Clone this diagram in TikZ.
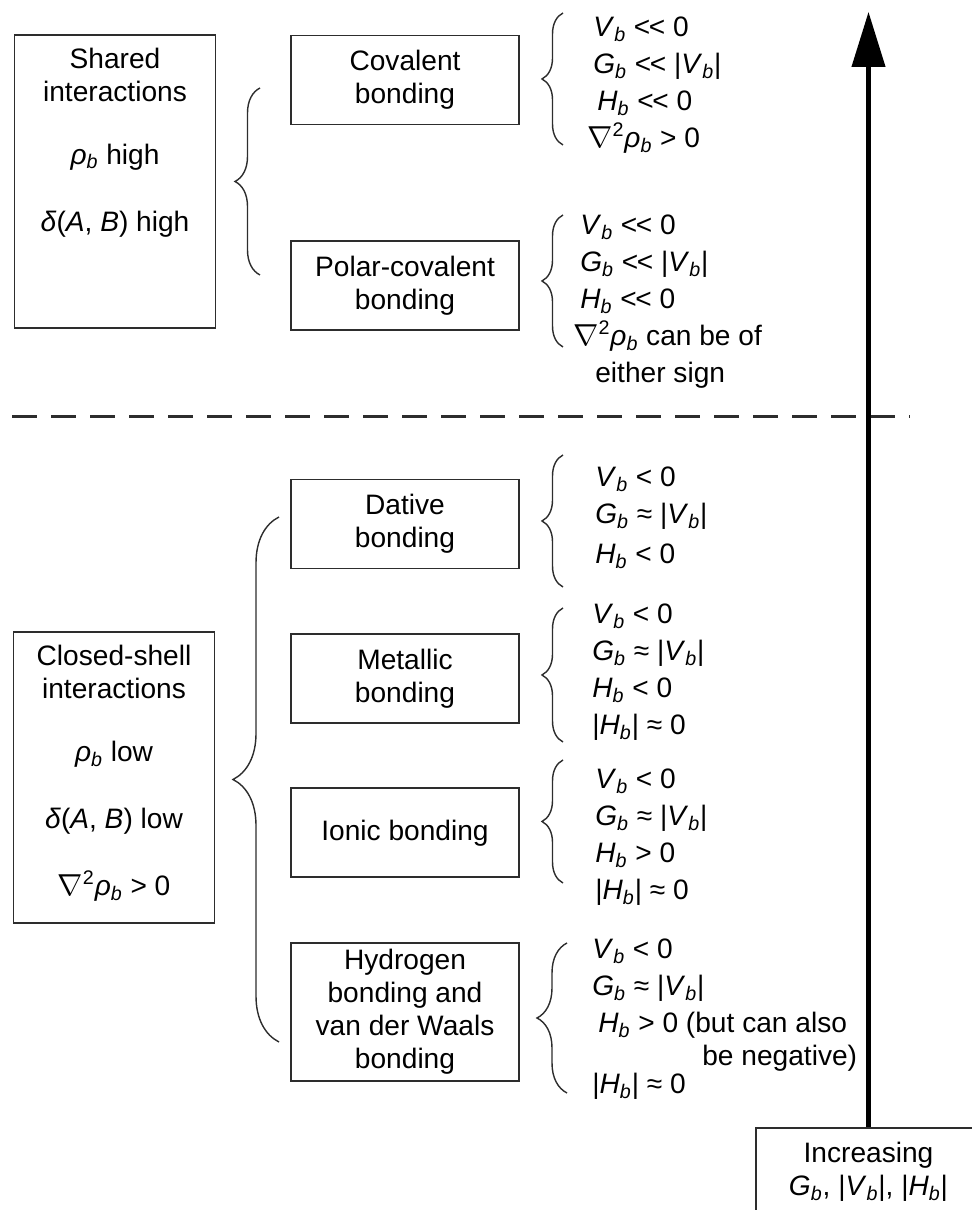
\documentclass[tikz,border=0pt]{standalone}
\usepackage{fontspec}
\setmainfont{Liberation Sans}
\usepackage{tikz}
\usetikzlibrary{arrows.meta,positioning,decorations.pathreplacing}
\definecolor{boxline}{RGB}{45,45,45}
\newcommand{\qb}[1]{\textit{#1}\textsubscript{\textit{b}}}
\newcommand{\lapl}{$\nabla$\textsuperscript{2}\qb{ρ}}
\newcommand{\mll}{<\kern-0.05em<}

\begin{document}
\begin{tikzpicture}[
  font=\fontsize{16}{18.8}\selectfont,
  group/.style={draw=boxline,line width=1.1pt,minimum width=4.02cm},
  grouptext/.style={align=center,inner sep=0pt},
  bond/.style={draw=boxline,line width=1.1pt,minimum width=4.56cm,minimum height=1.78cm,
               align=center},
  props/.style={align=left,anchor=north west,inner sep=0pt,
                font=\fontsize{16}{21}\selectfont},
  curly/.style={decorate,decoration={brace,amplitude=#1},line width=0.8pt,boxline},
  divider/.style={line width=1.7pt,boxline,dash pattern=on 0.5cm off 0.28cm},
  rise/.style={-{Triangle[length=1.1cm,width=0.66cm]},line width=2.4pt}
]
\useasboundingbox (0,0) rectangle (19.44,24.2);
\clip (0,0) rectangle (19.44,24.2);

% Shared interactions
\node[group,minimum height=5.86cm] (shared) at (2.30,20.57) {};
\node[grouptext,below=0.27cm of shared.north] (sharedtxt)
  {Shared\\interactions\\[0.6cm]\qb{ρ} high\\[0.68cm]\textit{δ}(\textit{A}, \textit{B}) high};

% Closed-shell interactions
\node[group,minimum height=5.82cm] (closed) at (2.28,8.65) {};
\node[grouptext,below=0.28cm of closed.north] (closedtxt)
  {Closed-shell\\interactions\\[0.6cm]\qb{ρ} low\\[0.68cm]\textit{δ}(\textit{A}, \textit{B}) low\\[0.68cm]\lapl{} > 0};

% Bond types
\node[bond] (cov) at (8.10,22.60) {Covalent\\bonding};
\node[bond,below=2.3cm of cov] (polar) {Polar-covalent\\bonding};
\node[bond] (dative) at (8.10,13.72) {Dative\\bonding};
\node[bond,below=1.27cm of dative] (metal) {Metallic\\bonding};
\node[bond,below=1.27cm of metal] (ionic) {Ionic bonding};
\node[bond,below=1.27cm of ionic,minimum height=2.76cm,inner ysep=2pt] (hvdw)
  {Hydrogen\\bonding and\\van der Waals\\bonding};

% Left braces
\draw[curly=0.5cm] (5.20,18.70) -- (5.20,22.44);
\draw[curly=0.92cm] (5.58,3.36) -- (5.58,13.86);

% Right braces
\foreach \yb/\yt in {21.30/23.94,17.26/19.90,12.46/15.10,9.36/12.04,6.54/9.00}
  \draw[curly=0.42cm] (11.26,\yb) -- (11.26,\yt);
\draw[curly=0.6cm] (11.34,2.34) -- (11.34,5.34);

% Properties
\node[props] (covp) at (11.86,23.86)
  {\qb{V} \mll{} 0\\\qb{G} \mll{} |\qb{V}|\\\hspace*{0.08cm}\qb{H} \mll{} 0\\\hspace*{-0.12cm}\lapl{} > 0};
\node[props] (polarp) at (11.60,19.90)
  {\qb{V} \mll{} 0\\\qb{G} \mll{} |\qb{V}|\\\qb{H} \mll{} 0\\\hspace*{-0.14cm}\lapl{} can be of\\\hspace*{0.3cm}either sign};
\node[props] (dativep) at (11.90,14.86)
  {\qb{V} < 0\\\qb{G} ≈ |\qb{V}|\\[0.06cm]\qb{H} < 0};
\node[props] (metalp) at (11.84,12.12)
  {\qb{V} < 0\\\qb{G} ≈ |\qb{V}|\\\qb{H} < 0\\|\qb{H}| ≈ 0};
\node[props] (ionicp) at (11.90,8.82)
  {\qb{V} < 0\\\qb{G} ≈ |\qb{V}|\\\qb{H} > 0\\|\qb{H}| ≈ 0};
\node[props] (hvdwp) at (11.84,5.42)
  {\qb{V} < 0\\\qb{G} ≈ |\qb{V}|\\\hspace*{0.12cm}\qb{H} > 0 (but can also\\[-2.2pt]\hspace*{2.2cm}be negative)\\[-5pt]|\qb{H}| ≈ 0};

% Increasing scale
\node[bond,minimum width=4.5cm,minimum height=1.76cm] (incr) at (17.37,0.76)
  {Increasing\\\qb{G}, |\qb{V}|, |\qb{H}|};
\coordinate (tip) at (17.37,23.96);

% Divider
\draw[divider] (0.24,15.86) -- (18.20,15.86);
\draw[rise] (incr.north) -- (tip);

\end{tikzpicture}
\end{document}
